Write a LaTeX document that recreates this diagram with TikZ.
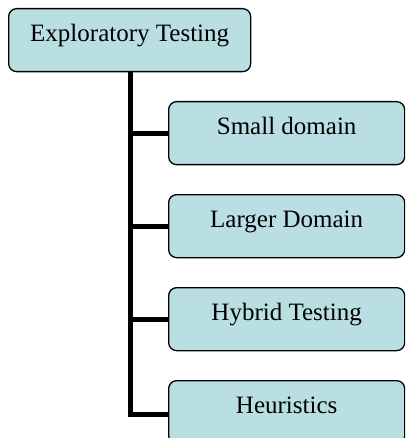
\documentclass[tikz,border=0pt]{standalone}
\usepackage{fontspec}
\setmainfont{Liberation Serif}
\definecolor{boxfill}{RGB}{185,223,226}
\tikzset{
  box/.style={draw=black, line width=1.3pt, fill=boxfill, rounded corners=8pt,
    inner xsep=0pt, inner ysep=0pt, text height=33pt, text depth=30pt,
    font=\fontsize{25}{28}\selectfont, anchor=north west},
  conn/.style={line width=5pt, line join=miter, draw=black}
}
\begin{document}
\begin{tikzpicture}[x=1pt,y=-1pt]
\useasboundingbox (0,0) rectangle (405,438);
\clip (0,0) rectangle (405,438);
\node[box, minimum width=242pt] (root) at (8,8) {Exploratory Testing};
\node[box, minimum width=236pt] (s1) at (168,101) {Small domain};
\node[box, minimum width=236pt] (s2) at (168,194) {Larger Domain};
\node[box, minimum width=236pt] (s3) at (168,287) {Hybrid Testing};
\node[box, minimum width=236pt] (s4) at (168,380) {Heuristics};
\draw[conn] ([xshift=1pt]root.south) |- ([yshift=-2pt]s4.west);
\draw[conn] ([xshift=1pt]root.south |- s1.west) -- (s1.west);
\draw[conn] ([xshift=1pt]root.south |- s2.west) -- (s2.west);
\draw[conn] ([xshift=1pt]root.south |- s3.west) -- (s3.west);
\end{tikzpicture}
\end{document}
